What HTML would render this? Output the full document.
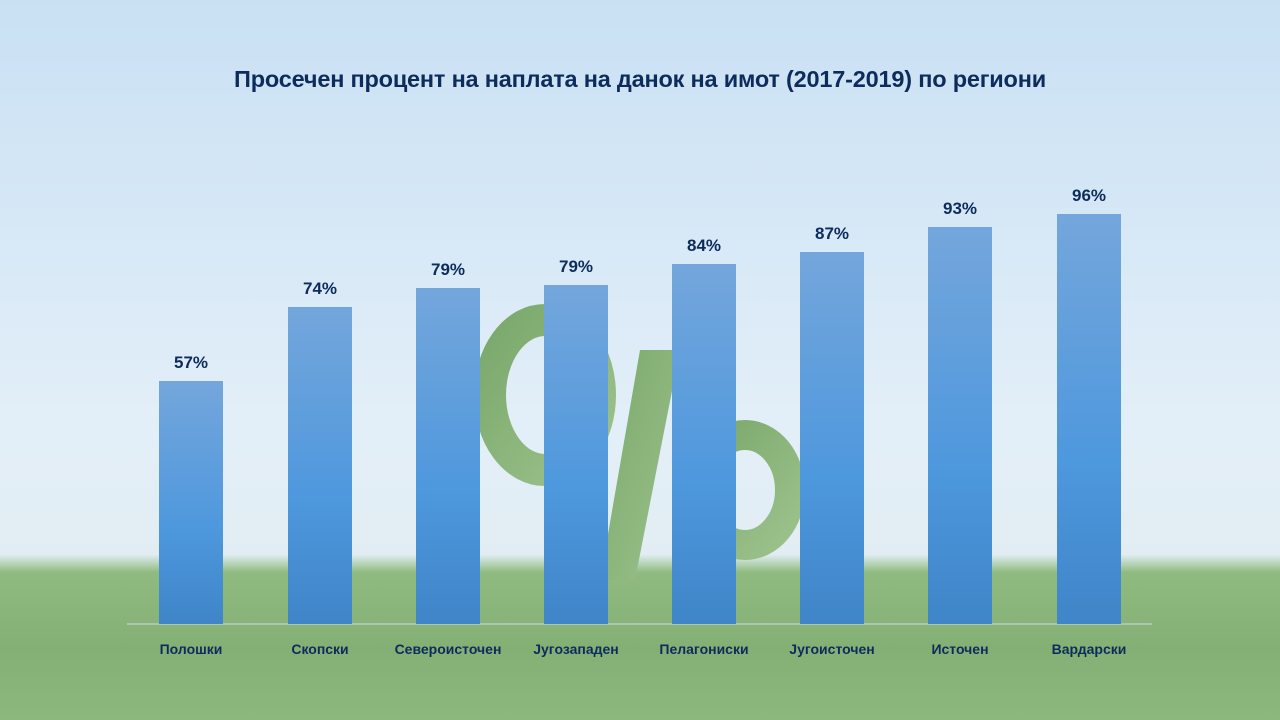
<!DOCTYPE html>
<html><head><meta charset="utf-8"><style>
html,body{margin:0;padding:0;width:1280px;height:720px;overflow:hidden}
body{font-family:"Liberation Sans",sans-serif;position:relative;
background:linear-gradient(180deg,#c9e0f3 0%,#d8e9f7 35%,#e3eff8 60%,#e2edf3 77%,#8fba80 79.5%,#84b075 90%,#8cb87e 100%);}
.t{position:absolute;left:0;width:1280px;top:66px;text-align:center;font-weight:bold;font-size:23.5px;color:#0d2c5c;letter-spacing:-0.2px}
.bar{position:absolute;width:64px;bottom:96px;background:linear-gradient(180deg,#74a6dc,#4e98dd 60%,#3f85c8)}
.v{position:absolute;width:100px;text-align:center;font-weight:bold;font-size:17px;color:#0d2c5c}
.l{position:absolute;top:641px;width:140px;text-align:center;font-weight:bold;font-size:14px;color:#0d2c5c}
</style></head><body>
<svg width="1280" height="720" style="position:absolute;left:0;top:0">
<defs><linearGradient id="g" x1="0" y1="0" x2="1" y2="1"><stop offset="0" stop-color="#7aa86b"/><stop offset="1" stop-color="#9cc28c"/></linearGradient></defs>
<ellipse cx="545" cy="395" rx="55" ry="75" fill="none" stroke="url(#g)" stroke-width="32"/>
<ellipse cx="745" cy="490" rx="45" ry="55" fill="none" stroke="url(#g)" stroke-width="30"/>
<polygon points="640,350 680,350 635,580 600,580" fill="url(#g)"/>
<line x1="127" y1="624" x2="1152" y2="624" stroke="#d0dbe4" stroke-width="1"/>
</svg>
<div class="t">Просечен процент на наплата на данок на имот (2017-2019) по региони</div>
<div class="bar" style="left:159px;top:381px"></div>
<div class="bar" style="left:288px;top:307px"></div>
<div class="bar" style="left:416px;top:288px"></div>
<div class="bar" style="left:544px;top:285px"></div>
<div class="bar" style="left:672px;top:264px"></div>
<div class="bar" style="left:800px;top:252px"></div>
<div class="bar" style="left:928px;top:227px"></div>
<div class="bar" style="left:1057px;top:214px"></div>
<div class="v" style="left:141px;top:353px">57%</div>
<div class="v" style="left:270px;top:279px">74%</div>
<div class="v" style="left:398px;top:260px">79%</div>
<div class="v" style="left:526px;top:257px">79%</div>
<div class="v" style="left:654px;top:236px">84%</div>
<div class="v" style="left:782px;top:224px">87%</div>
<div class="v" style="left:910px;top:199px">93%</div>
<div class="v" style="left:1039px;top:186px">96%</div>
<div class="l" style="left:121px">Полошки</div>
<div class="l" style="left:250px">Скопски</div>
<div class="l" style="left:378px">Североисточен</div>
<div class="l" style="left:506px">Југозападен</div>
<div class="l" style="left:634px">Пелагониски</div>
<div class="l" style="left:762px">Југоисточен</div>
<div class="l" style="left:890px">Источен</div>
<div class="l" style="left:1019px">Вардарски</div>
</body></html>
